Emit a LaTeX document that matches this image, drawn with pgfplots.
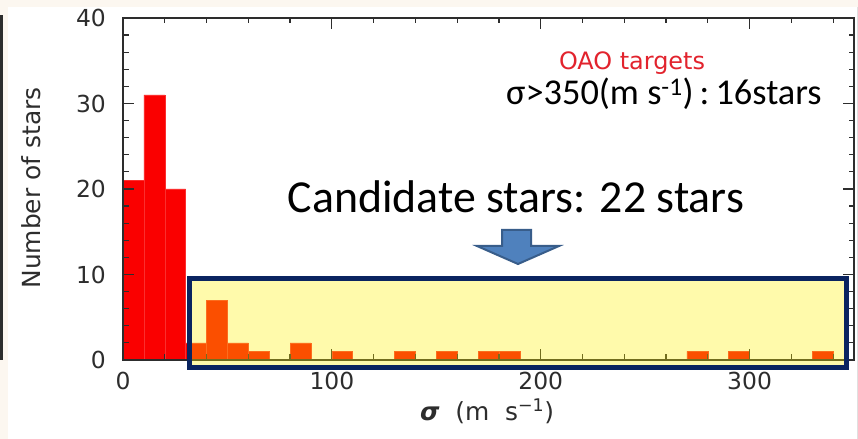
\documentclass[border=0pt]{standalone}
\usepackage{pgfplots}
\pgfplotsset{compat=1.18}
\usepackage{fontspec}
\setmainfont{DejaVu Sans}
\newfontfamily\calibri{Carlito}

\definecolor{cream}{RGB}{252,247,240}
\definecolor{barred}{RGB}{250,0,0}
\definecolor{navy}{RGB}{10,36,96}
\definecolor{arrowfill}{RGB}{79,129,189}
\definecolor{arrowedge}{RGB}{56,93,138}
\definecolor{oaored}{RGB}{226,35,45}
\definecolor{axisgray}{RGB}{45,45,45}

\begin{document}
\begin{tikzpicture}
\begin{scope}[x=1bp,y=1bp]
  \path[use as bounding box] (0,0) rectangle (858,439);
  \fill[cream] (0,0) rectangle (858,439);
  \fill[white] (8,0) rectangle (858,432);
  \draw[line width=2.5bp, axisgray] (1.5,79) -- (1.5,424);
  \draw[line width=1bp, black!12] (857,0) -- (857,432);
\end{scope}

\begin{axis}[
  at={(123bp,79bp)}, anchor=south west,
  scale only axis, width=731bp, height=342bp,
  xmin=0, xmax=350, ymin=0, ymax=40,
  axis on top,
  axis line style={axisgray, line width=1.5bp},
  tick style={axisgray, line width=1.2bp},
  tick align=inside,
  major tick length=11bp, minor tick length=5.5bp,
  xtick={0,100,200,300}, minor xtick={20,40,...,340},
  ytick={0,10,...,40}, minor ytick={2,4,...,38},
  /pgf/number format/assume math mode=true,
  xticklabel style={font=\fontsize{23.5}{23.5}\selectfont, axisgray, anchor=north, inner sep=0pt, yshift=-12bp},
  yticklabel style={font=\fontsize{23.5}{23.5}\selectfont, axisgray, anchor=east, inner sep=0pt, xshift=-17bp},
  clip=false,
]
% velocity-scatter histogram, 10 m/s bins (bin centres)
\addplot[ybar, bar width=10, fill=barred, draw=barred!82!white, line width=0.5bp]
  coordinates {(5,21) (15,31) (25,20) (35,2) (45,7) (55,2) (65,1) (85,2)
               (105,1) (135,1) (155,1) (175,1) (185,1) (275,1) (295,1) (335,1)};
\coordinate (bsw) at (axis cs:31.6,-0.82);
\coordinate (bne) at (axis cs:346.4,9.53);
\end{axis}

% highlighted candidate range
\fill[yellow, fill opacity=0.33] (bsw) rectangle (bne);
\draw[navy, line width=5bp] (bsw) rectangle (bne);

\begin{scope}[x=1bp,y=1bp]
  \filldraw[fill=arrowfill, draw=arrowedge, line width=2bp]
    (502,209) -- (531,209) -- (531,193) -- (559,193) -- (518,175)
    -- (477,193) -- (502,193) -- cycle;
  \node[oaored, font=\fontsize{24}{24}\selectfont, anchor=base] at (632,369) {OAO targets};
  \node[font=\calibri\fontsize{36.5}{36.5}\selectfont, anchor=base west, inner sep=0pt]
    at (506,334) {σ>350(m s\textsuperscript{-1})\,:\,16stars};
  \node[font=\calibri\fontsize{46}{46}\selectfont, anchor=base, inner sep=0pt]
    at (516,226) {Candidate stars: 22 stars};
  \node[rotate=90, font=\fontsize{25}{25}\selectfont, axisgray] at (31,251) {Number of stars};
  \node[font=\fontsize{25}{25}\selectfont, axisgray] at (487,28)
    {\textbf{\textit{σ}}\ \ (m\ \ s\textsuperscript{−1})};
\end{scope}
\end{tikzpicture}
\end{document}
